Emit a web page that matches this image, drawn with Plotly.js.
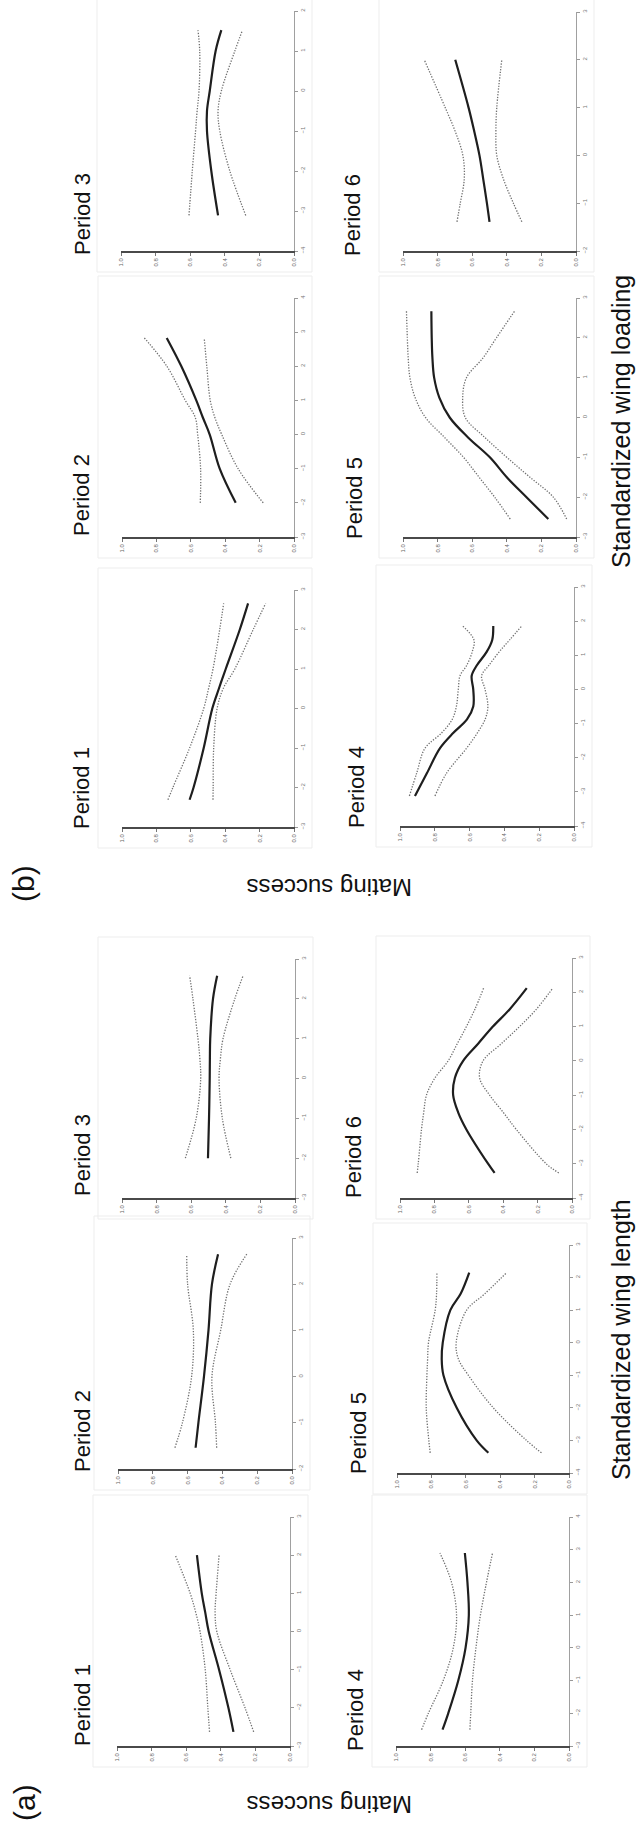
<!DOCTYPE html>
<html>
<head>
<meta charset="utf-8">
<script src="https://cdn.plot.ly/plotly-3.0.1.min.js"></script>
<style>
  html, body { margin: 0; padding: 0; background: #fff; }
  #chart { width: 639px; height: 1847px; }
</style>
</head>
<body>
<div id="chart"></div>
<script>
// ---------- DATA (wing length on each panel's horizontal axis of the original figure) ----------
// (a) Standardized wing length
const a1_wl  = [-2.63, -2, -1, 0, 0.5, 1, 2];
const a1_fit = [0.327, 0.356, 0.41, 0.47, 0.49, 0.51, 0.538];
const a1_hi  = [0.465, 0.475, 0.49, 0.52, 0.545, 0.577, 0.663];
const a1_lo  = [0.21, 0.26, 0.346, 0.423, 0.433, 0.427, 0.41];

const a2_wl  = [-1.54, -1, 0, 1, 2, 2.65];
const a2_fit = [0.554, 0.538, 0.506, 0.48, 0.46, 0.425];
const a2_hi  = [0.673, 0.63, 0.577, 0.567, 0.60, 0.605];
const a2_lo  = [0.433, 0.44, 0.46, 0.41, 0.356, 0.26];

const a3_wl  = [-2, -1, 0, 0.5, 1, 2, 2.58];
const a3_fit = [0.503, 0.497, 0.493, 0.492, 0.49, 0.474, 0.45];
const a3_hi  = [0.634, 0.571, 0.545, 0.55, 0.561, 0.59, 0.609];
const a3_lo  = [0.371, 0.42, 0.439, 0.431, 0.416, 0.348, 0.30];

const a4_wl  = [-2.5, -2, -1, 0, 1, 2, 2.9];
const a4_fit = [0.731, 0.698, 0.64, 0.598, 0.579, 0.587, 0.602];
const a4_hi  = [0.852, 0.813, 0.727, 0.669, 0.65, 0.679, 0.746];
const a4_lo  = [0.573, 0.568, 0.558, 0.538, 0.512, 0.477, 0.442];

const a5_wl  = [-3.38, -3, -2, -1, -0.5, 0, 1, 1.5, 2.15];
const a5_fit = [0.469, 0.537, 0.653, 0.73, 0.74, 0.734, 0.69, 0.63, 0.58];
const a5_hi  = [0.807, 0.815, 0.83, 0.826, 0.822, 0.817, 0.778, 0.77, 0.768];
const a5_lo  = [0.16, 0.247, 0.44, 0.585, 0.643, 0.656, 0.595, 0.49, 0.363];

const a6_wl  = [-3.27, -3, -2, -1.5, -1, -0.5, 0, 0.5, 1, 1.5, 2.12];
const a6_fit = [0.45, 0.488, 0.614, 0.662, 0.691, 0.681, 0.633, 0.546, 0.46, 0.363, 0.263];
const a6_hi  = [0.90, 0.894, 0.875, 0.862, 0.846, 0.797, 0.72, 0.667, 0.614, 0.565, 0.514];
const a6_lo  = [0.077, 0.15, 0.324, 0.40, 0.479, 0.537, 0.517, 0.411, 0.305, 0.208, 0.112];

// (b) Standardized wing loading
const b1_wl  = [-2.31, -2, -1, 0, 0.5, 1, 2, 2.66];
const b1_fit = [0.607, 0.584, 0.525, 0.475, 0.437, 0.397, 0.315, 0.267];
const b1_hi  = [0.733, 0.704, 0.607, 0.525, 0.497, 0.471, 0.432, 0.409];
const b1_lo  = [0.471, 0.47, 0.467, 0.447, 0.412, 0.344, 0.237, 0.165];

const b2_wl  = [-2, -1, 0, 0.5, 1, 2, 2.83];
const b2_fit = [0.339, 0.432, 0.49, 0.53, 0.568, 0.655, 0.74];
const b2_hi  = [0.545, 0.543, 0.56, 0.574, 0.632, 0.739, 0.87];
const b2_lo  = [0.179, 0.325, 0.42, 0.46, 0.487, 0.507, 0.522];

const b3_wl  = [-3.11, -2, -1, -0.5, 0, 1, 1.52];
const b3_fit = [0.439, 0.478, 0.503, 0.503, 0.487, 0.453, 0.42];
const b3_hi  = [0.607, 0.588, 0.569, 0.56, 0.549, 0.545, 0.555];
const b3_lo  = [0.279, 0.371, 0.429, 0.439, 0.42, 0.342, 0.298];

const b4_wl  = [-3.12, -2.45, -1.72, -1.27, -0.88, -0.5, 0, 0.4, 0.7, 1.1, 1.45, 1.86];
const b4_fit = [0.914, 0.845, 0.77, 0.693, 0.615, 0.579, 0.579, 0.588, 0.559, 0.502, 0.47, 0.464];
const b4_hi  = [0.946, 0.904, 0.856, 0.76, 0.70, 0.676, 0.665, 0.655, 0.617, 0.585, 0.575, 0.64];
const b4_lo  = [0.799, 0.732, 0.617, 0.555, 0.511, 0.495, 0.511, 0.531, 0.49, 0.43, 0.37, 0.30];

const b5_wl  = [-2.55, -2, -1.5, -1, -0.5, 0, 0.5, 1, 1.5, 2, 2.67];
const b5_fit = [0.16, 0.286, 0.40, 0.498, 0.624, 0.73, 0.79, 0.82, 0.83, 0.834, 0.836];
const b5_hi  = [0.38, 0.47, 0.56, 0.65, 0.76, 0.87, 0.93, 0.96, 0.97, 0.975, 0.98];
const b5_lo  = [0.054, 0.131, 0.266, 0.40, 0.527, 0.64, 0.655, 0.633, 0.537, 0.46, 0.355];

const b6_wl  = [-1.39, -1, -0.5, 0, 0.5, 1, 2];
const b6_fit = [0.50, 0.515, 0.536, 0.558, 0.588, 0.621, 0.698];
const b6_hi  = [0.688, 0.669, 0.646, 0.654, 0.698, 0.756, 0.877];
const b6_lo  = [0.313, 0.362, 0.419, 0.458, 0.463, 0.458, 0.429];

const msTicks = [0, 0.2, 0.4, 0.6, 0.8, 1.0];
const periodLabels = ['Period 1', 'Period 2', 'Period 3', 'Period 4', 'Period 5', 'Period 6'];
const yTitle = 'Mating success';
const xTitleA = 'Standardized wing length';
const xTitleB = 'Standardized wing loading';

// ---------- LAYOUT (figure is rotated 90° counter-clockwise) ----------
const W = 639, H = 1847;
// plot-area boxes in pixels: [left, right, top, bottom], wing-length range
const panels = [
  {wl: a1_wl, fit: a1_fit, hi: a1_hi, lo: a1_lo, box: [117, 290, 1517, 1746], r: [-3, 3], lab: 0, lp: [82, 1705]},
  {wl: a2_wl, fit: a2_fit, hi: a2_hi, lo: a2_lo, box: [118, 292, 1238, 1469], r: [-2, 3], lab: 1, lp: [82, 1431]},
  {wl: a3_wl, fit: a3_fit, hi: a3_hi, lo: a3_lo, box: [122, 295, 959, 1198], r: [-3, 3], lab: 2, lp: [82, 1155]},
  {wl: a4_wl, fit: a4_fit, hi: a4_hi, lo: a4_lo, box: [396, 569, 1517, 1746], r: [-3, 4], lab: 3, lp: [355, 1710]},
  {wl: a5_wl, fit: a5_fit, hi: a5_hi, lo: a5_lo, box: [397, 569, 1245, 1473], r: [-4, 3], lab: 4, lp: [358, 1433]},
  {wl: a6_wl, fit: a6_fit, hi: a6_hi, lo: a6_lo, box: [400, 572, 958, 1198], r: [-4, 3], lab: 5, lp: [353, 1157]},
  {wl: b1_wl, fit: b1_fit, hi: b1_hi, lo: b1_lo, box: [122, 294, 590, 827], r: [-3, 3], lab: 0, lp: [82, 788]},
  {wl: b2_wl, fit: b2_fit, hi: b2_hi, lo: b2_lo, box: [122, 294, 298, 537], r: [-3, 4], lab: 1, lp: [81, 495]},
  {wl: b3_wl, fit: b3_fit, hi: b3_hi, lo: b3_lo, box: [121, 294, 11, 251], r: [-4, 2], lab: 2, lp: [82, 214]},
  {wl: b4_wl, fit: b4_fit, hi: b4_hi, lo: b4_lo, box: [400, 574, 587, 826], r: [-4, 3], lab: 3, lp: [356, 787]},
  {wl: b5_wl, fit: b5_fit, hi: b5_hi, lo: b5_lo, box: [403, 576, 298, 537], r: [-3, 3], lab: 4, lp: [354, 498]},
  {wl: b6_wl, fit: b6_fit, hi: b6_hi, lo: b6_lo, box: [403, 576, 12, 251], r: [-2, 3], lab: 5, lp: [353, 215]}
];

const px = v => v / W;
const py = v => 1 - v / H;

const traces = [];
const layout = {
  width: W, height: H,
  margin: {l: 0, r: 0, t: 0, b: 0},
  paper_bgcolor: '#fff', plot_bgcolor: 'rgba(0,0,0,0)',
  showlegend: false,
  font: {family: 'Liberation Sans, Arial, sans-serif', color: '#111'},
  shapes: [], annotations: []
};

panels.forEach((p, i) => {
  const n = i + 1;
  const xa = 'x' + (n === 1 ? '' : n), ya = 'y' + (n === 1 ? '' : n);
  const xk = 'xaxis' + (n === 1 ? '' : n), yk = 'yaxis' + (n === 1 ? '' : n);
  const [l, r, t, b] = p.box;
  layout[xk] = {
    domain: [px(l), px(r)], anchor: ya, range: [1, 0], autorange: false,
    showline: true, linecolor: '#4a4a4a', linewidth: 1.8,
    ticks: 'outside', ticklen: 3, tickwidth: 1, tickcolor: '#777',
    tickvals: msTicks, tickformat: '.1f', tickangle: -90,
    tickfont: {size: 6, color: '#666'},
    showgrid: false, zeroline: false, fixedrange: true
  };
  layout[yk] = {
    domain: [py(b), py(t)], anchor: xa, side: 'right', range: p.r, autorange: false,
    showline: true, linecolor: '#a0a0a0', linewidth: 1,
    ticks: 'outside', ticklen: 3, tickwidth: 1, tickcolor: '#999',
    dtick: 1, tick0: 0, tickangle: -90,
    tickfont: {size: 6, color: '#777'},
    showgrid: false, zeroline: false, fixedrange: true
  };
  const common = {xaxis: xa, yaxis: ya, mode: 'lines', hoverinfo: 'skip'};
  const ci = {color: '#707070', width: 1.3, dash: '1.3px,1.5px', shape: 'spline', smoothing: 1};
  traces.push(Object.assign({}, common, {x: p.hi, y: p.wl, line: ci}));
  traces.push(Object.assign({}, common, {x: p.lo, y: p.wl, line: ci}));
  traces.push(Object.assign({}, common, {x: p.fit, y: p.wl,
    line: {color: '#1e1e1e', width: 2.2, shape: 'spline', smoothing: 1}}));
  // faint panel frame
  layout.shapes.push({type: 'rect', xref: 'paper', yref: 'paper',
    x0: px(l - 24), x1: px(r + 18), y0: py(b + 21), y1: py(t - 22),
    line: {color: '#ededed', width: 1}, layer: 'below'});
  layout.annotations.push({xref: 'paper', yref: 'paper', x: px(p.lp[0]), y: py(p.lp[1]),
    xanchor: 'center', yanchor: 'middle', textangle: -90, showarrow: false,
    text: periodLabels[p.lab], font: {size: 22, color: '#111'}});
});

// panel letters and shared titles
[
  {t: '(a)', x: 24, y: 1803, a: -90, s: 30},
  {t: '(b)', x: 24, y: 884, a: -90, s: 30},
  {t: yTitle, x: 330, y: 1805, a: 180, s: 24},
  {t: yTitle, x: 330, y: 887, a: 180, s: 24},
  {t: xTitleA, x: 621, y: 1340, a: -90, s: 25},
  {t: xTitleB, x: 621, y: 422, a: -90, s: 25}
].forEach(o => layout.annotations.push({xref: 'paper', yref: 'paper', x: px(o.x), y: py(o.y),
  xanchor: 'center', yanchor: 'middle', textangle: o.a, showarrow: false,
  text: o.t, font: {size: o.s, color: '#111'}}));

Plotly.newPlot('chart', traces, layout, {staticPlot: true, displayModeBar: false});
</script>
</body>
</html>
